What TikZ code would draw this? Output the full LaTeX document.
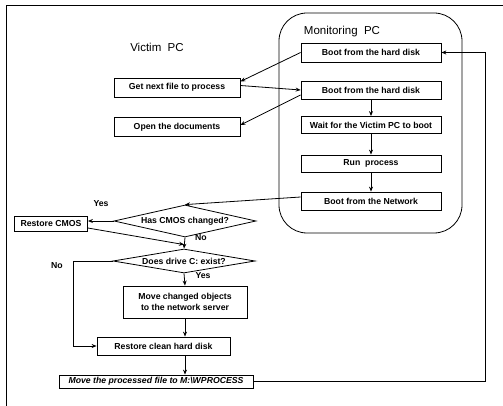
\documentclass[tikz,border=0pt]{standalone}
\usepackage{fontspec}
\setmainfont{Liberation Sans}
\usetikzlibrary{arrows.meta,shapes.geometric}
\newcommand{\bxfont}{\fontsize{8.7}{11}\selectfont\bfseries}
\newcommand{\ttlfont}{\fontsize{11.5}{13}\selectfont}
\tikzset{
  box/.style={draw, line width=0.8pt, inner sep=0pt, font=\bxfont, align=center},
  dec/.style={draw, diamond, line width=0.8pt, inner sep=0pt, font=\bxfont},
  conn/.style={line width=0.8pt, -{Stealth[length=5pt,width=4pt]}},
  plain/.style={line width=0.8pt},
  lbl/.style={font=\bxfont, inner sep=0pt},
  ttl/.style={font=\ttlfont, inner sep=0pt}
}
\begin{document}
\begin{tikzpicture}[x=1pt,y=-1pt]
\useasboundingbox (0,0) rectangle (503,406);
% frame
\draw[plain] (6,406) -- (6,5) -- (503,5);
% monitoring PC container
\node[draw, line width=0.8pt, rounded corners=28pt, minimum width=183pt, minimum height=220pt, inner sep=0pt] (mon) at (370.5,123) {};
\node[ttl] (vtitle) at (157,47) {Victim\ \ PC};
\node[ttl] (mtitle) at (342,32) {Monitoring\ \ PC};
% monitoring boxes
\node[box, minimum width=140pt, minimum height=19pt] (M1) at (371,52.5) {Boot from the hard disk};
\node[box, minimum width=140pt, minimum height=18pt] (M2) at (371,90) {Boot from the hard disk};
\node[box, minimum width=140pt, minimum height=17pt] (M3) at (371,125) {Wait for the Victim PC to boot};
\node[box, minimum width=140pt, minimum height=17pt] (M4) at (371,163.5) {Run\ \ process};
\node[box, minimum width=140pt, minimum height=18pt] (M5) at (371,201) {Boot from the Network};
% victim boxes
\node[box, minimum width=126pt, minimum height=19pt] (V1) at (177,87.5) {Get next file to process};
\node[box, minimum width=126pt, minimum height=19pt] (V2) at (177,127) {Open the documents};
% decisions
\node[dec, shape aspect=4.4, minimum width=142pt, minimum height=32pt] (D1) at (185,221) {Has CMOS changed?};
\node[dec, shape aspect=5.9, minimum width=142pt, minimum height=24pt] (D2) at (184,261) {Does drive C: exist?};
\node[box, minimum width=73pt, minimum height=15pt] (RC) at (51,224) {Restore CMOS};
\node[box, minimum width=124pt, minimum height=32pt] (MC) at (185,302) {Move changed objects\\to the network server};
\node[box, minimum width=133pt, minimum height=18pt] (RCl) at (163.5,346) {Restore clean hard disk};
\node[box, minimum width=194pt, minimum height=13pt, font=\bxfont\itshape] (MP) at (156,381.5) {Move the processed file to M:\textbackslash WPROCESS};
% labels
\node[lbl] (yes1) at (101,204) {Yes};
\node[lbl] (no1) at (201,238) {No};
\node[lbl] (no2) at (57,266) {No};
\node[lbl] (yes2) at (203,276) {Yes};
% connectors
\draw[conn] (M1.west) -- ([yshift=6pt]V1.east);
\draw[conn] ([yshift=2pt]V1.east) -- (M2.west);
\draw[conn] ([yshift=-5pt]M2.west) -- ([yshift=2pt]V2.east);
\draw[conn] (M2.south) -- (M3.north);
\draw[conn] (M3.south) -- (M4.north);
\draw[conn] (M4.south) -- (M5.north);
\draw[conn] ([yshift=4pt]M5.west) -- (D1.north);
\draw[conn] (D1.west) -- (D1.west -| RC.east);
\coordinate (mg) at ([yshift=4pt]D2.north);
\draw[conn] ([yshift=-4pt]RC.east) -- (mg);
\draw[conn] (D1.south) -- (D2.north);
\coordinate (dl) at (73,261);
\draw[conn] (D2.west) -- (dl) -- (dl |- RCl.west) -- (RCl.west);
\draw[conn] (D2.south) -- (MC.north);
\draw[conn] (MC.south) -- (MC.south |- RCl.north);
\draw[conn] (MC.south |- RCl.south) -- (MC.south |- MP.north);
\coordinate (fb) at (485,381.5);
\draw[conn] (MP.east) -- (fb) -- (fb |- M1.east) -- (M1.east);
\end{tikzpicture}
\end{document}
